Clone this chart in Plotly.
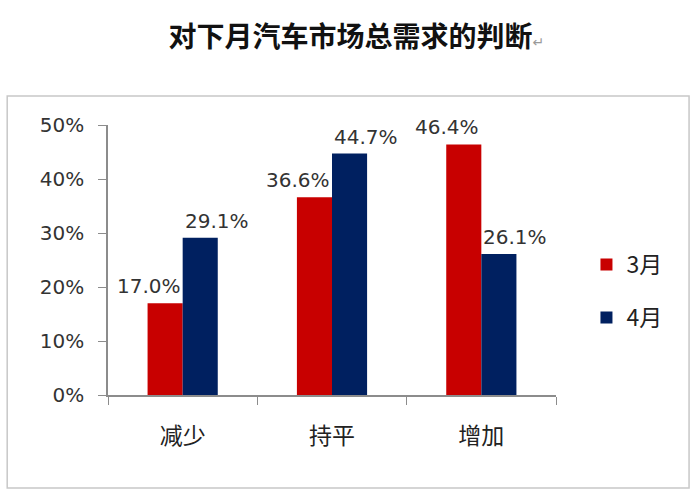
import plotly.graph_objects as go

# chart data
categories = ['减少', '持平', '增加']
series_names = ['3月', '4月']
march_values = [0.170, 0.366, 0.464]
april_values = [0.291, 0.447, 0.261]
y_tick_values = [0, 0.1, 0.2, 0.3, 0.4, 0.5]
y_tick_labels = ['0%', '10%', '20%', '30%', '40%', '50%']

title_text = '对下月汽车市场总需求的判断'

colors = ['#C80000', '#002060']
num_font = 'DejaVu Sans, Noto Sans CJK SC'
cjk_font = 'Noto Sans CJK SC, DejaVu Sans'


def build_figure():
    fig = go.Figure()

    all_values = [march_values, april_values]
    for name, values, color in zip(series_names, all_values, colors):
        fig.add_trace(
            go.Bar(
                x=categories,
                y=values,
                name=name,
                legendgroup=name,
                marker=dict(color=color, line=dict(width=0)),
            )
        )

    # data labels, nudged sideways like the original Excel labels
    label_shift = [-34, 34]
    for values, shift in zip(all_values, label_shift):
        for cat, val in zip(categories, values):
            fig.add_annotation(
                x=cat, y=val, xref='x', yref='y',
                text=f'{val * 100:.1f}%',
                showarrow=False,
                xanchor='center', yanchor='bottom',
                xshift=shift, yshift=3,
                font=dict(family=num_font, size=20, color='#333333'),
            )

    # outer frame round the chart
    fig.add_shape(
        type='rect', xref='paper', yref='paper',
        x0=-0.225, x1=1.297, y0=-0.344, y1=1.107,
        line=dict(color='#C8C8C8', width=1.5),
        fillcolor='rgba(0,0,0,0)',
        layer='below',
    )

    fig.update_layout(
        width=700,
        height=492,
        paper_bgcolor='white',
        plot_bgcolor='white',
        margin=dict(l=108, r=144, t=125, b=97),
        barmode='group',
        bargap=0.53,
        bargroupgap=0,
        title=dict(
            text=f'<b>{title_text}</b><span style="font-size:14px;color:#9a9a9a">↵</span>',
            x=0.509, xref='container', xanchor='center',
            y=0.925, yref='container', yanchor='middle',
            font=dict(family=cjk_font, size=28, color='#111111'),
        ),
        legend=dict(
            x=1.068, xanchor='left',
            y=0.385, yanchor='middle',
            traceorder='grouped',
            tracegroupgap=20,
            font=dict(family=cjk_font, size=23, color='#222222'),
            itemwidth=30,
            bgcolor='rgba(0,0,0,0)',
        ),
        showlegend=True,
    )

    fig.update_yaxes(
        range=[0, 0.5],
        tickvals=y_tick_values,
        ticktext=y_tick_labels,
        showgrid=False,
        zeroline=False,
        showline=True,
        linecolor='#8C8C8C',
        linewidth=1.5,
        ticks='outside',
        ticklen=8,
        tickcolor='#8C8C8C',
        ticklabelstandoff=10,
        tickfont=dict(family=num_font, size=20, color='#333333'),
    )
    fig.update_xaxes(
        showgrid=False,
        showline=True,
        linecolor='#8C8C8C',
        linewidth=1.5,
        ticks='outside',
        tickson='boundaries',
        ticklen=8,
        tickcolor='#8C8C8C',
        ticklabelstandoff=20,
        tickfont=dict(family=cjk_font, size=23, color='#222222'),
    )
    return fig


def main():
    fig = build_figure()
    # drop the default page margin so the figure sits at the window corner
    fig.write_html(
        'out.html',
        config={'displayModeBar': False},
        post_script="document.body.style.margin='0';",
    )


if __name__ == '__main__':
    main()
